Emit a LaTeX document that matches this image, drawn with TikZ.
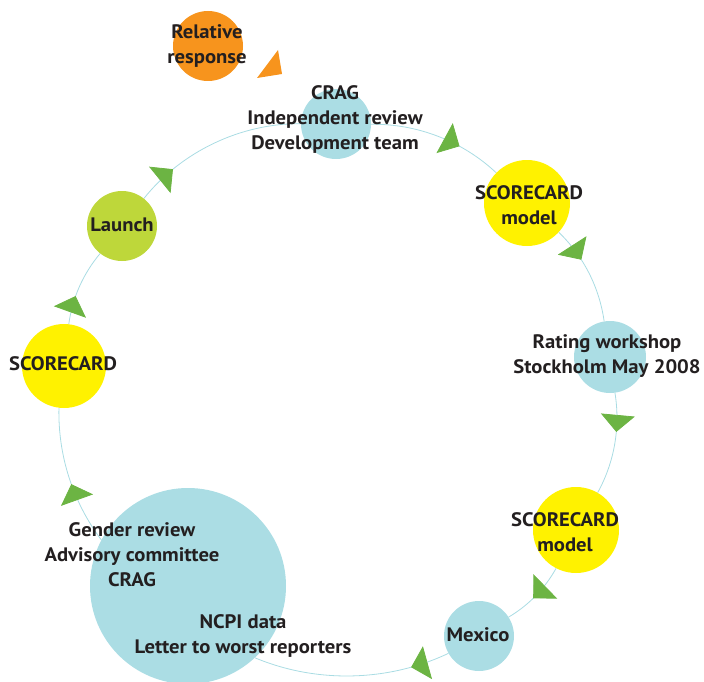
\documentclass[tikz,border=0pt]{standalone}
\usepackage{fontspec}
\setmainfont[FakeStretch=1.06]{PT Sans}
\usetikzlibrary{arrows.meta}
\usetikzlibrary{decorations.markings}
\usetikzlibrary{backgrounds}
\definecolor{ringcyan}{HTML}{A9DCE3}
\definecolor{stationcyan}{HTML}{ABDDE4}
\definecolor{cardyellow}{HTML}{FFF200}
\definecolor{launchgreen}{HTML}{BED73A}
\definecolor{relorange}{HTML}{F7941D}
\definecolor{tipgreen}{HTML}{6CB443}
\definecolor{inkgray}{HTML}{231F20}

\begin{document}
\begin{tikzpicture}[x=1pt, y=1pt, >={Triangle[length=17pt, width=34pt, color=tipgreen]}]
            \tikzstyle{station} = [circle, inner sep=0pt]
            \tikzstyle{caption} = [align=center, text=inkgray, font=\bfseries\fontsize{19.5}{25}\selectfont]
            \tikzstyle{link} = [draw=ringcyan, line width=0.8pt, looseness=0.88, postaction={decorate}]
            \useasboundingbox (0, 0) rectangle (704, -682);
            % stations round the ring
            \node[station, fill=relorange, minimum size=70pt] (rel) at (208, -46) {};
            \node[station, fill=stationcyan, minimum size=70pt] (crag) at (336, -124) {};
            \node[station, fill=cardyellow, minimum size=86pt] (scm) at (527, -203) {};
            \node[station, fill=stationcyan, minimum size=72pt] (rating) at (610, -357) {};
            \node[station, fill=cardyellow, minimum size=86pt] (scmb) at (576, -530) {};
            \node[station, fill=stationcyan, minimum size=70pt] (mexico) at (479, -636) {};
            \node[station, fill=stationcyan, minimum size=196pt] (big) at (188, -586) {};
            \node[station, fill=cardyellow, minimum size=84pt] (scl) at (64, -366) {};
            \node[station, fill=launchgreen, minimum size=70pt] (launch) at (122, -226) {};
            % texts
            \node[caption] (reltxt) at (207, -46) {Relative\\response};
            \node[caption] (cragtxt) at (335, -119) {CRAG\\Independent review\\Development team};
            \node[caption] (scmtxt) at (529, -205) {SCORECARD\\model};
            \node[caption] (ratingtxt) at (607, -356) {Rating workshop\\Stockholm May 2008};
            \node[caption] (scmbtxt) at (565, -532) {SCORECARD\\model};
            \node[caption] (mexicotxt) at (478, -635) {Mexico};
            \node[caption] (gendertxt) at (132, -555) {Gender review\\Advisory committee\\CRAG};
            \node[caption] (ncpitxt) at (243, -636) {NCPI data\\Letter to worst reporters};
            \node[caption] (scltxt) at (63, -364) {SCORECARD};
            \node[caption] (launchtxt) at (122, -225) {Launch};
            \fill[relorange] (278, -50) -- (282, -74) -- (257, -78) -- cycle;
            \begin{scope}[on background layer]
                \draw[link, bend left=22, decoration={markings, mark=at position 0.67 with {\arrow{>}}}] (crag) to (scm);
                \draw[link, bend left=19, decoration={markings, mark=at position 0.35 with {\arrow{>}}}] (scm) to (rating);
                \draw[link, bend left=19, decoration={markings, mark=at position 0.38 with {\arrow{>}}}] (rating) to (scmb);
                \draw[link, bend left=15, decoration={markings, mark=at position 0.55 with {\arrow{>}}}] (scmb) to (mexico);
                \draw[link, bend left=24, decoration={markings, mark=at position 0.2 with {\arrow{>}}}] (mexico) to (big.-47);
                \draw[link, bend left=19, decoration={markings, mark=at position 0.45 with {\arrow{>}}}] (big.152) to (scl);
                \draw[link, bend left=16, decoration={markings, mark=at position 0.37 with {\arrow{>}}}] (scl) to (launch);
                \draw[link, bend left=26, decoration={markings, mark=at position 0.23 with {\arrow{>}}}] (launch) to (crag);
            \end{scope}
        \end{tikzpicture}
\end{document}
